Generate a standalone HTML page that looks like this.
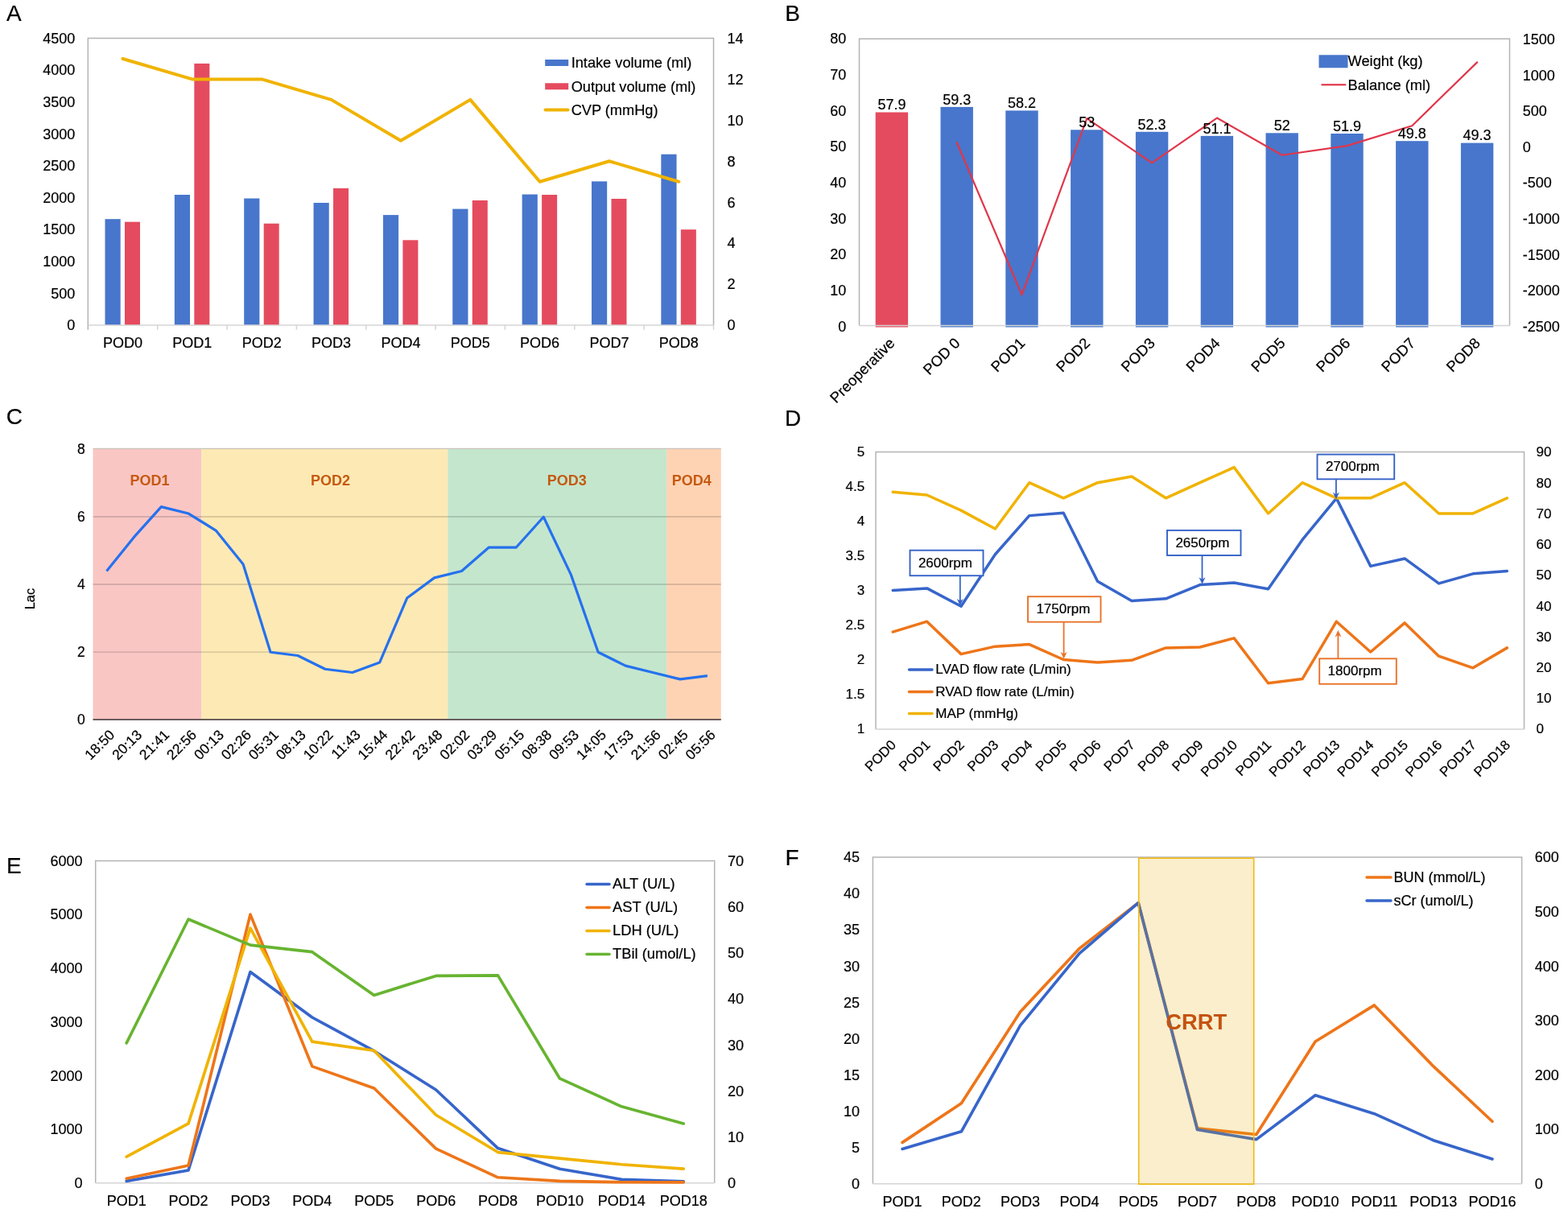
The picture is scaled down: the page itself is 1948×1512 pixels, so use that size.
<!DOCTYPE html>
<html><head><meta charset="utf-8"><title>Figure</title>
<style>html,body{margin:0;padding:0;background:#fff;}svg{display:block;}</style>
</head><body>
<svg width="1948" height="1512" viewBox="0 0 1948 1512" font-family='"Liberation Sans", Arial, Helvetica, sans-serif' font-size="17.5">
<rect width="1948" height="1512" fill="#fff"/>
<text x="7.9" y="26.4" stroke="#000" stroke-width="0.2" font-size="28">A</text>
<text x="975.2" y="26.4" stroke="#000" stroke-width="0.2" font-size="28">B</text>
<text x="7.7" y="526.7" stroke="#000" stroke-width="0.2" font-size="28">C</text>
<text x="974.9" y="528.8" stroke="#000" stroke-width="0.2" font-size="28">D</text>
<text x="8" y="1085.2" stroke="#000" stroke-width="0.2" font-size="28">E</text>
<text x="975.6" y="1074.7" stroke="#000" stroke-width="0.2" font-size="28">F</text>
<rect x="130.48" y="272.17" width="19.2" height="131.83" fill="#4776CC"/>
<rect x="154.98" y="275.66" width="19" height="128.34" fill="#E54B5E"/>
<rect x="216.83" y="241.99" width="19.2" height="162.01" fill="#4776CC"/>
<rect x="241.33" y="78.95" width="19" height="325.05" fill="#E54B5E"/>
<rect x="303.19" y="246.51" width="19.2" height="157.49" fill="#4776CC"/>
<rect x="327.69" y="277.72" width="19" height="126.28" fill="#E54B5E"/>
<rect x="389.54" y="251.97" width="19.2" height="152.03" fill="#4776CC"/>
<rect x="414.04" y="233.91" width="19" height="170.09" fill="#E54B5E"/>
<rect x="475.9" y="267.1" width="19.2" height="136.9" fill="#4776CC"/>
<rect x="500.4" y="298.32" width="19" height="105.68" fill="#E54B5E"/>
<rect x="562.26" y="259.58" width="19.2" height="144.42" fill="#4776CC"/>
<rect x="586.76" y="248.96" width="19" height="155.04" fill="#E54B5E"/>
<rect x="648.61" y="241.52" width="19.2" height="162.48" fill="#4776CC"/>
<rect x="673.11" y="241.99" width="19" height="162.01" fill="#E54B5E"/>
<rect x="734.97" y="225.35" width="19.2" height="178.65" fill="#4776CC"/>
<rect x="759.47" y="246.98" width="19" height="157.02" fill="#E54B5E"/>
<rect x="821.32" y="191.68" width="19.2" height="212.32" fill="#4776CC"/>
<rect x="845.82" y="285.17" width="19" height="118.83" fill="#E54B5E"/>
<line x1="109.3" y1="47.5" x2="886.5" y2="47.5" stroke="#B4B4B4" stroke-width="1.5"/>
<line x1="109.3" y1="46.75" x2="109.3" y2="409.7" stroke="#B4B4B4" stroke-width="1.5"/>
<line x1="886.5" y1="46.75" x2="886.5" y2="404" stroke="#B4B4B4" stroke-width="1.5"/>
<line x1="109.3" y1="404" x2="886.5" y2="404" stroke="#D4D4D4" stroke-width="1.5"/>
<line x1="195.66" y1="404" x2="195.66" y2="409.7" stroke="#D4D4D4" stroke-width="1.5"/>
<line x1="282.01" y1="404" x2="282.01" y2="409.7" stroke="#D4D4D4" stroke-width="1.5"/>
<line x1="368.37" y1="404" x2="368.37" y2="409.7" stroke="#D4D4D4" stroke-width="1.5"/>
<line x1="454.72" y1="404" x2="454.72" y2="409.7" stroke="#D4D4D4" stroke-width="1.5"/>
<line x1="541.08" y1="404" x2="541.08" y2="409.7" stroke="#D4D4D4" stroke-width="1.5"/>
<line x1="627.43" y1="404" x2="627.43" y2="409.7" stroke="#D4D4D4" stroke-width="1.5"/>
<line x1="713.79" y1="404" x2="713.79" y2="409.7" stroke="#D4D4D4" stroke-width="1.5"/>
<line x1="800.14" y1="404" x2="800.14" y2="409.7" stroke="#D4D4D4" stroke-width="1.5"/>
<line x1="886.5" y1="404" x2="886.5" y2="409.7" stroke="#D4D4D4" stroke-width="1.5"/>
<polyline points="152.48,72.96 238.83,98.43 325.19,98.43 411.54,123.89 497.9,174.82 584.26,123.89 670.61,225.75 756.97,200.29 843.32,225.75" fill="none" stroke="#F0B300" stroke-width="4" stroke-linejoin="round" stroke-linecap="round"/>
<text x="93.3" y="410.3" stroke="#000" stroke-width="0.2" text-anchor="end" font-size="18">0</text>
<text x="93.3" y="370.69" stroke="#000" stroke-width="0.2" text-anchor="end" font-size="18">500</text>
<text x="93.3" y="331.08" stroke="#000" stroke-width="0.2" text-anchor="end" font-size="18">1000</text>
<text x="93.3" y="291.47" stroke="#000" stroke-width="0.2" text-anchor="end" font-size="18">1500</text>
<text x="93.3" y="251.86" stroke="#000" stroke-width="0.2" text-anchor="end" font-size="18">2000</text>
<text x="93.3" y="212.24" stroke="#000" stroke-width="0.2" text-anchor="end" font-size="18">2500</text>
<text x="93.3" y="172.63" stroke="#000" stroke-width="0.2" text-anchor="end" font-size="18">3000</text>
<text x="93.3" y="133.02" stroke="#000" stroke-width="0.2" text-anchor="end" font-size="18">3500</text>
<text x="93.3" y="93.41" stroke="#000" stroke-width="0.2" text-anchor="end" font-size="18">4000</text>
<text x="93.3" y="53.8" stroke="#000" stroke-width="0.2" text-anchor="end" font-size="18">4500</text>
<text x="903.5" y="410.3" stroke="#000" stroke-width="0.2" font-size="18">0</text>
<text x="903.5" y="359.37" stroke="#000" stroke-width="0.2" font-size="18">2</text>
<text x="903.5" y="308.44" stroke="#000" stroke-width="0.2" font-size="18">4</text>
<text x="903.5" y="257.51" stroke="#000" stroke-width="0.2" font-size="18">6</text>
<text x="903.5" y="206.59" stroke="#000" stroke-width="0.2" font-size="18">8</text>
<text x="903.5" y="155.66" stroke="#000" stroke-width="0.2" font-size="18">10</text>
<text x="903.5" y="104.73" stroke="#000" stroke-width="0.2" font-size="18">12</text>
<text x="903.5" y="53.8" stroke="#000" stroke-width="0.2" font-size="18">14</text>
<text x="152.48" y="431.5" stroke="#000" stroke-width="0.2" text-anchor="middle" font-size="18">POD0</text>
<text x="238.83" y="431.5" stroke="#000" stroke-width="0.2" text-anchor="middle" font-size="18">POD1</text>
<text x="325.19" y="431.5" stroke="#000" stroke-width="0.2" text-anchor="middle" font-size="18">POD2</text>
<text x="411.54" y="431.5" stroke="#000" stroke-width="0.2" text-anchor="middle" font-size="18">POD3</text>
<text x="497.9" y="431.5" stroke="#000" stroke-width="0.2" text-anchor="middle" font-size="18">POD4</text>
<text x="584.26" y="431.5" stroke="#000" stroke-width="0.2" text-anchor="middle" font-size="18">POD5</text>
<text x="670.61" y="431.5" stroke="#000" stroke-width="0.2" text-anchor="middle" font-size="18">POD6</text>
<text x="756.97" y="431.5" stroke="#000" stroke-width="0.2" text-anchor="middle" font-size="18">POD7</text>
<text x="843.32" y="431.5" stroke="#000" stroke-width="0.2" text-anchor="middle" font-size="18">POD8</text>
<rect x="677.2" y="74" width="29" height="8" fill="#4776CC"/>
<rect x="677.2" y="103.3" width="29" height="8" fill="#E54B5E"/>
<line x1="677.5" y1="136.5" x2="705.5" y2="136.5" stroke="#F0B300" stroke-width="4" stroke-linecap="round"/>
<text x="709.7" y="83.8" stroke="#000" stroke-width="0.2" font-size="18.2">Intake volume (ml)</text>
<text x="709.7" y="113.6" stroke="#000" stroke-width="0.2" font-size="18.2">Output volume (ml)</text>
<text x="709.7" y="142.6" stroke="#000" stroke-width="0.2" font-size="18.2">CVP (mmHg)</text>
<rect x="1087.7" y="139.5" width="40.4" height="267" fill="#E54B5E"/>
<rect x="1168.5" y="132.9" width="40.4" height="273.6" fill="#4776CC"/>
<rect x="1249.3" y="137.4" width="40.4" height="269.1" fill="#4776CC"/>
<rect x="1330.1" y="161.3" width="40.4" height="245.2" fill="#4776CC"/>
<rect x="1410.9" y="163.8" width="40.4" height="242.7" fill="#4776CC"/>
<rect x="1491.7" y="168.9" width="40.4" height="237.6" fill="#4776CC"/>
<rect x="1572.5" y="165.3" width="40.4" height="241.2" fill="#4776CC"/>
<rect x="1653.3" y="166" width="40.4" height="240.5" fill="#4776CC"/>
<rect x="1734.1" y="175.2" width="40.4" height="231.3" fill="#4776CC"/>
<rect x="1814.9" y="177.6" width="40.4" height="228.9" fill="#4776CC"/>
<line x1="1067.5" y1="48.2" x2="1875.5" y2="48.2" stroke="#B4B4B4" stroke-width="1.5"/>
<line x1="1067.5" y1="47.45" x2="1067.5" y2="404.6" stroke="#B4B4B4" stroke-width="1.5"/>
<line x1="1875.5" y1="47.45" x2="1875.5" y2="404.6" stroke="#B4B4B4" stroke-width="1.5"/>
<line x1="1067.5" y1="404.6" x2="1875.5" y2="404.6" stroke="#D4D4D4" stroke-width="1.5"/>
<polyline points="1188.7,177.03 1269.5,366.24 1350.3,147.08 1431.1,202.43 1511.9,146.55 1592.7,192.72 1673.5,181.13 1754.3,156.18 1835.1,77.39" fill="none" stroke="#E0364A" stroke-width="2.2" stroke-linejoin="round" stroke-linecap="round"/>
<text x="1107.9" y="136.3" stroke="#000" stroke-width="0.2" text-anchor="middle" font-size="18">57.9</text>
<text x="1188.7" y="129.7" stroke="#000" stroke-width="0.2" text-anchor="middle" font-size="18">59.3</text>
<text x="1269.5" y="134.2" stroke="#000" stroke-width="0.2" text-anchor="middle" font-size="18">58.2</text>
<text x="1350.3" y="158.1" stroke="#000" stroke-width="0.2" text-anchor="middle" font-size="18">53</text>
<text x="1431.1" y="160.6" stroke="#000" stroke-width="0.2" text-anchor="middle" font-size="18">52.3</text>
<text x="1511.9" y="165.7" stroke="#000" stroke-width="0.2" text-anchor="middle" font-size="18">51.1</text>
<text x="1592.7" y="162.1" stroke="#000" stroke-width="0.2" text-anchor="middle" font-size="18">52</text>
<text x="1673.5" y="162.8" stroke="#000" stroke-width="0.2" text-anchor="middle" font-size="18">51.9</text>
<text x="1754.3" y="172" stroke="#000" stroke-width="0.2" text-anchor="middle" font-size="18">49.8</text>
<text x="1835.1" y="174.4" stroke="#000" stroke-width="0.2" text-anchor="middle" font-size="18">49.3</text>
<text x="1051.2" y="411.6" stroke="#000" stroke-width="0.2" text-anchor="end" font-size="18">0</text>
<text x="1051.2" y="366.95" stroke="#000" stroke-width="0.2" text-anchor="end" font-size="18">10</text>
<text x="1051.2" y="322.3" stroke="#000" stroke-width="0.2" text-anchor="end" font-size="18">20</text>
<text x="1051.2" y="277.65" stroke="#000" stroke-width="0.2" text-anchor="end" font-size="18">30</text>
<text x="1051.2" y="233" stroke="#000" stroke-width="0.2" text-anchor="end" font-size="18">40</text>
<text x="1051.2" y="188.35" stroke="#000" stroke-width="0.2" text-anchor="end" font-size="18">50</text>
<text x="1051.2" y="143.7" stroke="#000" stroke-width="0.2" text-anchor="end" font-size="18">60</text>
<text x="1051.2" y="99.05" stroke="#000" stroke-width="0.2" text-anchor="end" font-size="18">70</text>
<text x="1051.2" y="54.4" stroke="#000" stroke-width="0.2" text-anchor="end" font-size="18">80</text>
<text x="1891.8" y="54.9" stroke="#000" stroke-width="0.2" font-size="18">1500</text>
<text x="1891.8" y="99.5" stroke="#000" stroke-width="0.2" font-size="18">1000</text>
<text x="1891.8" y="144.1" stroke="#000" stroke-width="0.2" font-size="18">500</text>
<text x="1891.8" y="188.7" stroke="#000" stroke-width="0.2" font-size="18">0</text>
<text x="1891.8" y="233.3" stroke="#000" stroke-width="0.2" font-size="18">-500</text>
<text x="1891.8" y="277.9" stroke="#000" stroke-width="0.2" font-size="18">-1000</text>
<text x="1891.8" y="322.5" stroke="#000" stroke-width="0.2" font-size="18">-1500</text>
<text x="1891.8" y="367.1" stroke="#000" stroke-width="0.2" font-size="18">-2000</text>
<text x="1891.8" y="411.7" stroke="#000" stroke-width="0.2" font-size="18">-2500</text>
<text x="1112.9" y="427.5" stroke="#000" stroke-width="0.2" text-anchor="end" font-size="18.5" transform="rotate(-45 1112.9 427.5)">Preoperative</text>
<text x="1193.7" y="427.5" stroke="#000" stroke-width="0.2" text-anchor="end" font-size="18.5" transform="rotate(-45 1193.7 427.5)">POD 0</text>
<text x="1274.5" y="427.5" stroke="#000" stroke-width="0.2" text-anchor="end" font-size="18.5" transform="rotate(-45 1274.5 427.5)">POD1</text>
<text x="1355.3" y="427.5" stroke="#000" stroke-width="0.2" text-anchor="end" font-size="18.5" transform="rotate(-45 1355.3 427.5)">POD2</text>
<text x="1436.1" y="427.5" stroke="#000" stroke-width="0.2" text-anchor="end" font-size="18.5" transform="rotate(-45 1436.1 427.5)">POD3</text>
<text x="1516.9" y="427.5" stroke="#000" stroke-width="0.2" text-anchor="end" font-size="18.5" transform="rotate(-45 1516.9 427.5)">POD4</text>
<text x="1597.7" y="427.5" stroke="#000" stroke-width="0.2" text-anchor="end" font-size="18.5" transform="rotate(-45 1597.7 427.5)">POD5</text>
<text x="1678.5" y="427.5" stroke="#000" stroke-width="0.2" text-anchor="end" font-size="18.5" transform="rotate(-45 1678.5 427.5)">POD6</text>
<text x="1759.3" y="427.5" stroke="#000" stroke-width="0.2" text-anchor="end" font-size="18.5" transform="rotate(-45 1759.3 427.5)">POD7</text>
<text x="1840.1" y="427.5" stroke="#000" stroke-width="0.2" text-anchor="end" font-size="18.5" transform="rotate(-45 1840.1 427.5)">POD8</text>
<rect x="1638.5" y="68.3" width="36" height="16" fill="#4776CC"/>
<line x1="1641.5" y1="105.3" x2="1672.2" y2="105.3" stroke="#E0364A" stroke-width="2.2"/>
<text x="1674.5" y="82.2" stroke="#000" stroke-width="0.2" font-size="18.3">Weight (kg)</text>
<text x="1674.6" y="111.6" stroke="#000" stroke-width="0.2" font-size="18.3">Balance (ml)</text>
<rect x="115.5" y="557.4" width="134.9" height="336.1" fill="#F9C6C4"/>
<rect x="250.4" y="557.4" width="305.9" height="336.1" fill="#FDE9B4"/>
<rect x="556.3" y="557.4" width="271.8" height="336.1" fill="#C4E6CD"/>
<rect x="828.1" y="557.4" width="67.7" height="336.1" fill="#FED3B4"/>
<line x1="115.5" y1="810.08" x2="895.8" y2="810.08" stroke="rgba(0,0,0,0.19)" stroke-width="1.4"/>
<line x1="115.5" y1="726.05" x2="895.8" y2="726.05" stroke="rgba(0,0,0,0.19)" stroke-width="1.4"/>
<line x1="115.5" y1="642.02" x2="895.8" y2="642.02" stroke="rgba(0,0,0,0.19)" stroke-width="1.4"/>
<line x1="115.5" y1="557.4" x2="895.8" y2="557.4" stroke="#C9C1BA" stroke-width="1.3"/>
<line x1="115.5" y1="894" x2="895.8" y2="894" stroke="#3a2a2a" stroke-width="1.7"/>
<text x="186.1" y="603.4" text-anchor="middle" fill="#C55A11" font-weight="bold" font-size="18">POD1</text>
<text x="410.5" y="603.4" text-anchor="middle" fill="#C55A11" font-weight="bold" font-size="18">POD2</text>
<text x="704.3" y="603.4" text-anchor="middle" fill="#C55A11" font-weight="bold" font-size="18">POD3</text>
<text x="859.2" y="603.4" text-anchor="middle" fill="#C55A11" font-weight="bold" font-size="18">POD4</text>
<polyline points="132.46,709.44 166.39,667.43 200.32,629.62 234.24,638.02 268.17,659.03 302.09,701.04 336.02,810.27 369.95,814.48 403.87,831.28 437.8,835.48 471.72,822.88 505.65,743.05 539.58,717.85 573.5,709.44 607.43,680.04 641.35,680.04 675.28,642.22 709.21,713.65 743.13,810.27 777.06,827.08 810.98,835.48 844.91,843.88 878.84,839.68" fill="none" stroke="#2571EE" stroke-width="3.2" stroke-linejoin="round" stroke-linecap="butt"/>
<text x="105.8" y="899.62" stroke="#000" stroke-width="0.2" text-anchor="end" font-size="17.5">0</text>
<text x="105.8" y="815.6" stroke="#000" stroke-width="0.2" text-anchor="end" font-size="17.5">2</text>
<text x="105.8" y="731.58" stroke="#000" stroke-width="0.2" text-anchor="end" font-size="17.5">4</text>
<text x="105.8" y="647.55" stroke="#000" stroke-width="0.2" text-anchor="end" font-size="17.5">6</text>
<text x="105.8" y="563.52" stroke="#000" stroke-width="0.2" text-anchor="end" font-size="17.5">8</text>
<text x="143.46" y="914" stroke="#000" stroke-width="0.2" text-anchor="end" font-size="17.5" transform="rotate(-45 143.46 914)">18:50</text>
<text x="177.39" y="914" stroke="#000" stroke-width="0.2" text-anchor="end" font-size="17.5" transform="rotate(-45 177.39 914)">20:13</text>
<text x="211.32" y="914" stroke="#000" stroke-width="0.2" text-anchor="end" font-size="17.5" transform="rotate(-45 211.32 914)">21:41</text>
<text x="245.24" y="914" stroke="#000" stroke-width="0.2" text-anchor="end" font-size="17.5" transform="rotate(-45 245.24 914)">22:56</text>
<text x="279.17" y="914" stroke="#000" stroke-width="0.2" text-anchor="end" font-size="17.5" transform="rotate(-45 279.17 914)">00:13</text>
<text x="313.09" y="914" stroke="#000" stroke-width="0.2" text-anchor="end" font-size="17.5" transform="rotate(-45 313.09 914)">02:26</text>
<text x="347.02" y="914" stroke="#000" stroke-width="0.2" text-anchor="end" font-size="17.5" transform="rotate(-45 347.02 914)">05:31</text>
<text x="380.95" y="914" stroke="#000" stroke-width="0.2" text-anchor="end" font-size="17.5" transform="rotate(-45 380.95 914)">08:13</text>
<text x="414.87" y="914" stroke="#000" stroke-width="0.2" text-anchor="end" font-size="17.5" transform="rotate(-45 414.87 914)">10:22</text>
<text x="448.8" y="914" stroke="#000" stroke-width="0.2" text-anchor="end" font-size="17.5" transform="rotate(-45 448.8 914)">11:43</text>
<text x="482.72" y="914" stroke="#000" stroke-width="0.2" text-anchor="end" font-size="17.5" transform="rotate(-45 482.72 914)">15:44</text>
<text x="516.65" y="914" stroke="#000" stroke-width="0.2" text-anchor="end" font-size="17.5" transform="rotate(-45 516.65 914)">22:42</text>
<text x="550.58" y="914" stroke="#000" stroke-width="0.2" text-anchor="end" font-size="17.5" transform="rotate(-45 550.58 914)">23:48</text>
<text x="584.5" y="914" stroke="#000" stroke-width="0.2" text-anchor="end" font-size="17.5" transform="rotate(-45 584.5 914)">02:02</text>
<text x="618.43" y="914" stroke="#000" stroke-width="0.2" text-anchor="end" font-size="17.5" transform="rotate(-45 618.43 914)">03:29</text>
<text x="652.35" y="914" stroke="#000" stroke-width="0.2" text-anchor="end" font-size="17.5" transform="rotate(-45 652.35 914)">05:15</text>
<text x="686.28" y="914" stroke="#000" stroke-width="0.2" text-anchor="end" font-size="17.5" transform="rotate(-45 686.28 914)">08:38</text>
<text x="720.21" y="914" stroke="#000" stroke-width="0.2" text-anchor="end" font-size="17.5" transform="rotate(-45 720.21 914)">09:53</text>
<text x="754.13" y="914" stroke="#000" stroke-width="0.2" text-anchor="end" font-size="17.5" transform="rotate(-45 754.13 914)">14:05</text>
<text x="788.06" y="914" stroke="#000" stroke-width="0.2" text-anchor="end" font-size="17.5" transform="rotate(-45 788.06 914)">17:53</text>
<text x="821.98" y="914" stroke="#000" stroke-width="0.2" text-anchor="end" font-size="17.5" transform="rotate(-45 821.98 914)">21:56</text>
<text x="855.91" y="914" stroke="#000" stroke-width="0.2" text-anchor="end" font-size="17.5" transform="rotate(-45 855.91 914)">02:45</text>
<text x="889.84" y="914" stroke="#000" stroke-width="0.2" text-anchor="end" font-size="17.5" transform="rotate(-45 889.84 914)">05:56</text>
<text x="42.5" y="744" stroke="#000" stroke-width="0.2" text-anchor="middle" font-size="16.5" transform="rotate(-90 42.5 744)">Lac</text>
<line x1="1088" y1="561.5" x2="1893.5" y2="561.5" stroke="#B4B4B4" stroke-width="1.5"/>
<line x1="1088" y1="560.75" x2="1088" y2="906" stroke="#B4B4B4" stroke-width="1.5"/>
<line x1="1893.5" y1="560.75" x2="1893.5" y2="906" stroke="#B4B4B4" stroke-width="1.5"/>
<line x1="1088" y1="906" x2="1893.5" y2="906" stroke="#D4D4D4" stroke-width="1.5"/>
<polyline points="1109.2,733.5 1151.59,730.92 1193.99,753.28 1236.38,688.78 1278.78,640.62 1321.17,637.18 1363.57,722.32 1405.96,746.4 1448.36,743.82 1490.75,726.62 1533.14,724.04 1575.54,731.78 1617.93,670.72 1660.33,619.12 1702.72,703.4 1745.12,693.94 1787.51,724.9 1829.91,712.86 1872.3,709.42" fill="none" stroke="#3765CA" stroke-width="3.5" stroke-linejoin="round" stroke-linecap="round"/>
<polyline points="1109.2,785.1 1151.59,772.2 1193.99,812.62 1236.38,803.16 1278.78,800.58 1321.17,819.5 1363.57,822.94 1405.96,820.36 1448.36,804.88 1490.75,804.02 1533.14,792.84 1575.54,848.74 1617.93,843.58 1660.33,772.2 1702.72,810.04 1745.12,773.92 1787.51,815.2 1829.91,829.82 1872.3,804.88" fill="none" stroke="#EE7519" stroke-width="3.5" stroke-linejoin="round" stroke-linecap="round"/>
<polyline points="1109.2,611.19 1151.59,615.01 1193.99,634.12 1236.38,657.06 1278.78,599.72 1321.17,618.83 1363.57,599.72 1405.96,592.08 1448.36,618.83 1490.75,599.72 1533.14,580.61 1575.54,637.94 1617.93,599.72 1660.33,618.83 1702.72,618.83 1745.12,599.72 1787.51,637.94 1829.91,637.94 1872.3,618.83" fill="none" stroke="#F0B300" stroke-width="3.5" stroke-linejoin="round" stroke-linecap="round"/>
<line x1="1192.8" y1="715.6" x2="1192.8" y2="749.6" stroke="#3563C8" stroke-width="1.8"/>
<path d="M1192.8,752.6 L1188.8,744.1 L1192.8,746.6 L1196.8,744.1 Z" fill="#3563C8"/>
<rect x="1130.5" y="683.7" width="91" height="31.5" fill="#fff" stroke="#3563C8" stroke-width="1.9"/>
<text x="1140.9" y="704.75" stroke="#000" stroke-width="0.2" font-size="17">2600rpm</text>
<line x1="1493.5" y1="690.2" x2="1493.5" y2="722.7" stroke="#3563C8" stroke-width="1.8"/>
<path d="M1493.5,725.7 L1489.5,717.2 L1493.5,719.7 L1497.5,717.2 Z" fill="#3563C8"/>
<rect x="1450" y="658.9" width="91.5" height="31.1" fill="#fff" stroke="#3563C8" stroke-width="1.9"/>
<text x="1460.4" y="679.75" stroke="#000" stroke-width="0.2" font-size="17">2650rpm</text>
<line x1="1659.9" y1="595.3" x2="1659.9" y2="617.2" stroke="#3563C8" stroke-width="1.8"/>
<path d="M1659.9,620.2 L1655.9,611.7 L1659.9,614.2 L1663.9,611.7 Z" fill="#3563C8"/>
<rect x="1636.5" y="564.6" width="95.7" height="30.7" fill="#fff" stroke="#3563C8" stroke-width="1.9"/>
<text x="1646.9" y="585.25" stroke="#000" stroke-width="0.2" font-size="17">2700rpm</text>
<line x1="1321.6" y1="772.9" x2="1321.6" y2="815.5" stroke="#E8732A" stroke-width="1.8"/>
<path d="M1321.6,818.5 L1317.6,810 L1321.6,812.5 L1325.6,810 Z" fill="#E8732A"/>
<rect x="1277" y="741.2" width="90.5" height="31.5" fill="#fff" stroke="#E8732A" stroke-width="1.9"/>
<text x="1287.4" y="762.25" stroke="#000" stroke-width="0.2" font-size="17">1750rpm</text>
<line x1="1662.4" y1="818" x2="1662.4" y2="786" stroke="#E8732A" stroke-width="1.8"/>
<path d="M1662.4,783 L1658.4,791.5 L1662.4,789 L1666.4,791.5 Z" fill="#E8732A"/>
<rect x="1639.2" y="818.3" width="95.6" height="31.5" fill="#fff" stroke="#E8732A" stroke-width="1.9"/>
<text x="1649.6" y="839.35" stroke="#000" stroke-width="0.2" font-size="17">1800rpm</text>
<line x1="1129.5" y1="831.9" x2="1158" y2="831.9" stroke="#3765CA" stroke-width="3.5" stroke-linecap="round"/>
<text x="1162.3" y="837.3" stroke="#000" stroke-width="0.2" font-size="17">LVAD flow rate (L/min)</text>
<line x1="1129.5" y1="859.6" x2="1158" y2="859.6" stroke="#EE7519" stroke-width="3.5" stroke-linecap="round"/>
<text x="1162.3" y="865" stroke="#000" stroke-width="0.2" font-size="17">RVAD flow rate (L/min)</text>
<line x1="1129.5" y1="886.5" x2="1158" y2="886.5" stroke="#F0B300" stroke-width="3.5" stroke-linecap="round"/>
<text x="1162.3" y="892.1" stroke="#000" stroke-width="0.2" font-size="17">MAP (mmHg)</text>
<text x="1074.2" y="910.55" stroke="#000" stroke-width="0.2" text-anchor="end" font-size="17">1</text>
<text x="1074.2" y="867.55" stroke="#000" stroke-width="0.2" text-anchor="end" font-size="17">1.5</text>
<text x="1074.2" y="824.55" stroke="#000" stroke-width="0.2" text-anchor="end" font-size="17">2</text>
<text x="1074.2" y="781.55" stroke="#000" stroke-width="0.2" text-anchor="end" font-size="17">2.5</text>
<text x="1074.2" y="738.55" stroke="#000" stroke-width="0.2" text-anchor="end" font-size="17">3</text>
<text x="1074.2" y="695.55" stroke="#000" stroke-width="0.2" text-anchor="end" font-size="17">3.5</text>
<text x="1074.2" y="652.55" stroke="#000" stroke-width="0.2" text-anchor="end" font-size="17">4</text>
<text x="1074.2" y="609.55" stroke="#000" stroke-width="0.2" text-anchor="end" font-size="17">4.5</text>
<text x="1074.2" y="566.55" stroke="#000" stroke-width="0.2" text-anchor="end" font-size="17">5</text>
<text x="1908.5" y="911.45" stroke="#000" stroke-width="0.2" font-size="17">0</text>
<text x="1908.5" y="873.23" stroke="#000" stroke-width="0.2" font-size="17">10</text>
<text x="1908.5" y="835.01" stroke="#000" stroke-width="0.2" font-size="17">20</text>
<text x="1908.5" y="796.78" stroke="#000" stroke-width="0.2" font-size="17">30</text>
<text x="1908.5" y="758.56" stroke="#000" stroke-width="0.2" font-size="17">40</text>
<text x="1908.5" y="720.34" stroke="#000" stroke-width="0.2" font-size="17">50</text>
<text x="1908.5" y="682.12" stroke="#000" stroke-width="0.2" font-size="17">60</text>
<text x="1908.5" y="643.89" stroke="#000" stroke-width="0.2" font-size="17">70</text>
<text x="1908.5" y="605.67" stroke="#000" stroke-width="0.2" font-size="17">80</text>
<text x="1908.5" y="567.45" stroke="#000" stroke-width="0.2" font-size="17">90</text>
<text x="1114.2" y="926.5" stroke="#000" stroke-width="0.2" text-anchor="end" font-size="17" transform="rotate(-45 1114.2 926.5)">POD0</text>
<text x="1156.59" y="926.5" stroke="#000" stroke-width="0.2" text-anchor="end" font-size="17" transform="rotate(-45 1156.59 926.5)">POD1</text>
<text x="1198.99" y="926.5" stroke="#000" stroke-width="0.2" text-anchor="end" font-size="17" transform="rotate(-45 1198.99 926.5)">POD2</text>
<text x="1241.38" y="926.5" stroke="#000" stroke-width="0.2" text-anchor="end" font-size="17" transform="rotate(-45 1241.38 926.5)">POD3</text>
<text x="1283.78" y="926.5" stroke="#000" stroke-width="0.2" text-anchor="end" font-size="17" transform="rotate(-45 1283.78 926.5)">POD4</text>
<text x="1326.17" y="926.5" stroke="#000" stroke-width="0.2" text-anchor="end" font-size="17" transform="rotate(-45 1326.17 926.5)">POD5</text>
<text x="1368.57" y="926.5" stroke="#000" stroke-width="0.2" text-anchor="end" font-size="17" transform="rotate(-45 1368.57 926.5)">POD6</text>
<text x="1410.96" y="926.5" stroke="#000" stroke-width="0.2" text-anchor="end" font-size="17" transform="rotate(-45 1410.96 926.5)">POD7</text>
<text x="1453.36" y="926.5" stroke="#000" stroke-width="0.2" text-anchor="end" font-size="17" transform="rotate(-45 1453.36 926.5)">POD8</text>
<text x="1495.75" y="926.5" stroke="#000" stroke-width="0.2" text-anchor="end" font-size="17" transform="rotate(-45 1495.75 926.5)">POD9</text>
<text x="1538.14" y="926.5" stroke="#000" stroke-width="0.2" text-anchor="end" font-size="17" transform="rotate(-45 1538.14 926.5)">POD10</text>
<text x="1580.54" y="926.5" stroke="#000" stroke-width="0.2" text-anchor="end" font-size="17" transform="rotate(-45 1580.54 926.5)">POD11</text>
<text x="1622.93" y="926.5" stroke="#000" stroke-width="0.2" text-anchor="end" font-size="17" transform="rotate(-45 1622.93 926.5)">POD12</text>
<text x="1665.33" y="926.5" stroke="#000" stroke-width="0.2" text-anchor="end" font-size="17" transform="rotate(-45 1665.33 926.5)">POD13</text>
<text x="1707.72" y="926.5" stroke="#000" stroke-width="0.2" text-anchor="end" font-size="17" transform="rotate(-45 1707.72 926.5)">POD14</text>
<text x="1750.12" y="926.5" stroke="#000" stroke-width="0.2" text-anchor="end" font-size="17" transform="rotate(-45 1750.12 926.5)">POD15</text>
<text x="1792.51" y="926.5" stroke="#000" stroke-width="0.2" text-anchor="end" font-size="17" transform="rotate(-45 1792.51 926.5)">POD16</text>
<text x="1834.91" y="926.5" stroke="#000" stroke-width="0.2" text-anchor="end" font-size="17" transform="rotate(-45 1834.91 926.5)">POD17</text>
<text x="1877.3" y="926.5" stroke="#000" stroke-width="0.2" text-anchor="end" font-size="17" transform="rotate(-45 1877.3 926.5)">POD18</text>
<line x1="118.7" y1="1069.4" x2="887.7" y2="1069.4" stroke="#B4B4B4" stroke-width="1.5"/>
<line x1="118.7" y1="1068.65" x2="118.7" y2="1469.8" stroke="#B4B4B4" stroke-width="1.5"/>
<line x1="887.7" y1="1068.65" x2="887.7" y2="1469.8" stroke="#B4B4B4" stroke-width="1.5"/>
<line x1="118.7" y1="1469.8" x2="887.7" y2="1469.8" stroke="#D4D4D4" stroke-width="1.5"/>
<polyline points="157.15,1467.33 234.05,1454.05 310.95,1207.54 387.85,1263.99 464.75,1305.7 541.65,1354.02 618.55,1426.56 695.45,1452.18 772.35,1465.33 849.25,1467.8" fill="none" stroke="#3765CA" stroke-width="3.65" stroke-linejoin="round" stroke-linecap="round"/>
<polyline points="157.15,1464.19 234.05,1448.04 310.95,1136.13 387.85,1324.86 464.75,1352.02 541.65,1427.09 618.55,1462.79 695.45,1467.33 772.35,1468.8 849.25,1468.8" fill="none" stroke="#EE7519" stroke-width="3.65" stroke-linejoin="round" stroke-linecap="round"/>
<polyline points="157.15,1437.17 234.05,1395.86 310.95,1153.22 387.85,1294.09 464.75,1305.24 541.65,1385.25 618.55,1431.56 695.45,1439.1 772.35,1446.71 849.25,1452.18" fill="none" stroke="#F0B300" stroke-width="3.65" stroke-linejoin="round" stroke-linecap="round"/>
<polyline points="157.15,1295.91 234.05,1142.04 310.95,1174.08 387.85,1182.66 464.75,1236.42 541.65,1212.4 618.55,1211.83 695.45,1339.96 772.35,1374.85 849.25,1396.01" fill="none" stroke="#67B431" stroke-width="3.65" stroke-linejoin="round" stroke-linecap="round"/>
<text x="102.6" y="1476.1" stroke="#000" stroke-width="0.2" text-anchor="end" font-size="18">0</text>
<text x="102.6" y="1409.37" stroke="#000" stroke-width="0.2" text-anchor="end" font-size="18">1000</text>
<text x="102.6" y="1342.63" stroke="#000" stroke-width="0.2" text-anchor="end" font-size="18">2000</text>
<text x="102.6" y="1275.9" stroke="#000" stroke-width="0.2" text-anchor="end" font-size="18">3000</text>
<text x="102.6" y="1209.17" stroke="#000" stroke-width="0.2" text-anchor="end" font-size="18">4000</text>
<text x="102.6" y="1142.43" stroke="#000" stroke-width="0.2" text-anchor="end" font-size="18">5000</text>
<text x="102.6" y="1075.7" stroke="#000" stroke-width="0.2" text-anchor="end" font-size="18">6000</text>
<text x="904" y="1476.1" stroke="#000" stroke-width="0.2" font-size="18">0</text>
<text x="904" y="1418.9" stroke="#000" stroke-width="0.2" font-size="18">10</text>
<text x="904" y="1361.7" stroke="#000" stroke-width="0.2" font-size="18">20</text>
<text x="904" y="1304.5" stroke="#000" stroke-width="0.2" font-size="18">30</text>
<text x="904" y="1247.3" stroke="#000" stroke-width="0.2" font-size="18">40</text>
<text x="904" y="1190.1" stroke="#000" stroke-width="0.2" font-size="18">50</text>
<text x="904" y="1132.9" stroke="#000" stroke-width="0.2" font-size="18">60</text>
<text x="904" y="1075.7" stroke="#000" stroke-width="0.2" font-size="18">70</text>
<text x="157.15" y="1497.9" stroke="#000" stroke-width="0.2" text-anchor="middle" font-size="18">POD1</text>
<text x="234.05" y="1497.9" stroke="#000" stroke-width="0.2" text-anchor="middle" font-size="18">POD2</text>
<text x="310.95" y="1497.9" stroke="#000" stroke-width="0.2" text-anchor="middle" font-size="18">POD3</text>
<text x="387.85" y="1497.9" stroke="#000" stroke-width="0.2" text-anchor="middle" font-size="18">POD4</text>
<text x="464.75" y="1497.9" stroke="#000" stroke-width="0.2" text-anchor="middle" font-size="18">POD5</text>
<text x="541.65" y="1497.9" stroke="#000" stroke-width="0.2" text-anchor="middle" font-size="18">POD6</text>
<text x="618.55" y="1497.9" stroke="#000" stroke-width="0.2" text-anchor="middle" font-size="18">POD8</text>
<text x="695.45" y="1497.9" stroke="#000" stroke-width="0.2" text-anchor="middle" font-size="18">POD10</text>
<text x="772.35" y="1497.9" stroke="#000" stroke-width="0.2" text-anchor="middle" font-size="18">POD14</text>
<text x="849.25" y="1497.9" stroke="#000" stroke-width="0.2" text-anchor="middle" font-size="18">POD18</text>
<line x1="729" y1="1098.4" x2="757" y2="1098.4" stroke="#3765CA" stroke-width="3.5" stroke-linecap="round"/>
<text x="761.1" y="1104.1" stroke="#000" stroke-width="0.2" font-size="18.3">ALT (U/L)</text>
<line x1="729" y1="1127.4" x2="757" y2="1127.4" stroke="#EE7519" stroke-width="3.5" stroke-linecap="round"/>
<text x="761.1" y="1133.1" stroke="#000" stroke-width="0.2" font-size="18.3">AST (U/L)</text>
<line x1="729" y1="1156.4" x2="757" y2="1156.4" stroke="#F0B300" stroke-width="3.5" stroke-linecap="round"/>
<text x="761.1" y="1162.1" stroke="#000" stroke-width="0.2" font-size="18.3">LDH (U/L)</text>
<line x1="729" y1="1185.4" x2="757" y2="1185.4" stroke="#67B431" stroke-width="3.5" stroke-linecap="round"/>
<text x="761.1" y="1191.1" stroke="#000" stroke-width="0.2" font-size="18.3">TBil (umol/L)</text>
<line x1="1084.4" y1="1064.9" x2="1890.6" y2="1064.9" stroke="#B4B4B4" stroke-width="1.5"/>
<line x1="1084.4" y1="1064.15" x2="1084.4" y2="1470.8" stroke="#B4B4B4" stroke-width="1.5"/>
<line x1="1890.6" y1="1064.15" x2="1890.6" y2="1470.8" stroke="#B4B4B4" stroke-width="1.5"/>
<line x1="1084.4" y1="1470.8" x2="1890.6" y2="1470.8" stroke="#D4D4D4" stroke-width="1.5"/>
<polyline points="1121.05,1419.39 1194.34,1370.68 1267.63,1257.03 1340.92,1178.55 1414.21,1121.73 1487.5,1401.89 1560.79,1409.46 1634.08,1294.01 1707.37,1248.91 1780.66,1324.68 1853.95,1393.23" fill="none" stroke="#EE7519" stroke-width="3.65" stroke-linejoin="round" stroke-linecap="round"/>
<polyline points="1121.05,1427.5 1194.34,1405.86 1267.63,1273.94 1340.92,1184.64 1414.21,1121.73 1487.5,1403.42 1560.79,1415.6 1634.08,1360.8 1707.37,1383.67 1780.66,1416.68 1853.95,1440.02" fill="none" stroke="#3765CA" stroke-width="3.65" stroke-linejoin="round" stroke-linecap="round"/>
<rect x="1414.7" y="1066.2" width="143" height="405" fill="#E6AA00" fill-opacity="0.2" stroke="#F0BA12" stroke-width="1.6"/>
<text x="1486.2" y="1278.8" text-anchor="middle" fill="#C4530F" font-weight="bold" font-size="27.3">CRRT</text>
<text x="1068" y="1477.1" stroke="#000" stroke-width="0.2" text-anchor="end" font-size="18">0</text>
<text x="1068" y="1432" stroke="#000" stroke-width="0.2" text-anchor="end" font-size="18">5</text>
<text x="1068" y="1386.9" stroke="#000" stroke-width="0.2" text-anchor="end" font-size="18">10</text>
<text x="1068" y="1341.8" stroke="#000" stroke-width="0.2" text-anchor="end" font-size="18">15</text>
<text x="1068" y="1296.7" stroke="#000" stroke-width="0.2" text-anchor="end" font-size="18">20</text>
<text x="1068" y="1251.6" stroke="#000" stroke-width="0.2" text-anchor="end" font-size="18">25</text>
<text x="1068" y="1206.5" stroke="#000" stroke-width="0.2" text-anchor="end" font-size="18">30</text>
<text x="1068" y="1161.4" stroke="#000" stroke-width="0.2" text-anchor="end" font-size="18">35</text>
<text x="1068" y="1116.3" stroke="#000" stroke-width="0.2" text-anchor="end" font-size="18">40</text>
<text x="1068" y="1071.2" stroke="#000" stroke-width="0.2" text-anchor="end" font-size="18">45</text>
<text x="1906.8" y="1477.1" stroke="#000" stroke-width="0.2" font-size="18">0</text>
<text x="1906.8" y="1409.45" stroke="#000" stroke-width="0.2" font-size="18">100</text>
<text x="1906.8" y="1341.8" stroke="#000" stroke-width="0.2" font-size="18">200</text>
<text x="1906.8" y="1274.15" stroke="#000" stroke-width="0.2" font-size="18">300</text>
<text x="1906.8" y="1206.5" stroke="#000" stroke-width="0.2" font-size="18">400</text>
<text x="1906.8" y="1138.85" stroke="#000" stroke-width="0.2" font-size="18">500</text>
<text x="1906.8" y="1071.2" stroke="#000" stroke-width="0.2" font-size="18">600</text>
<text x="1121.05" y="1498.9" stroke="#000" stroke-width="0.2" text-anchor="middle" font-size="18">POD1</text>
<text x="1194.34" y="1498.9" stroke="#000" stroke-width="0.2" text-anchor="middle" font-size="18">POD2</text>
<text x="1267.63" y="1498.9" stroke="#000" stroke-width="0.2" text-anchor="middle" font-size="18">POD3</text>
<text x="1340.92" y="1498.9" stroke="#000" stroke-width="0.2" text-anchor="middle" font-size="18">POD4</text>
<text x="1414.21" y="1498.9" stroke="#000" stroke-width="0.2" text-anchor="middle" font-size="18">POD5</text>
<text x="1487.5" y="1498.9" stroke="#000" stroke-width="0.2" text-anchor="middle" font-size="18">POD7</text>
<text x="1560.79" y="1498.9" stroke="#000" stroke-width="0.2" text-anchor="middle" font-size="18">POD8</text>
<text x="1634.08" y="1498.9" stroke="#000" stroke-width="0.2" text-anchor="middle" font-size="18">POD10</text>
<text x="1707.37" y="1498.9" stroke="#000" stroke-width="0.2" text-anchor="middle" font-size="18">POD11</text>
<text x="1780.66" y="1498.9" stroke="#000" stroke-width="0.2" text-anchor="middle" font-size="18">POD13</text>
<text x="1853.95" y="1498.9" stroke="#000" stroke-width="0.2" text-anchor="middle" font-size="18">POD16</text>
<line x1="1698" y1="1090.1" x2="1728" y2="1090.1" stroke="#EE7519" stroke-width="3.5" stroke-linecap="round"/>
<text x="1731.5" y="1096.2" stroke="#000" stroke-width="0.2" font-size="18">BUN (mmol/L)</text>
<line x1="1698" y1="1119.1" x2="1728" y2="1119.1" stroke="#3765CA" stroke-width="3.5" stroke-linecap="round"/>
<text x="1731.5" y="1125.2" stroke="#000" stroke-width="0.2" font-size="18">sCr (umol/L)</text>
</svg>
</body></html>
